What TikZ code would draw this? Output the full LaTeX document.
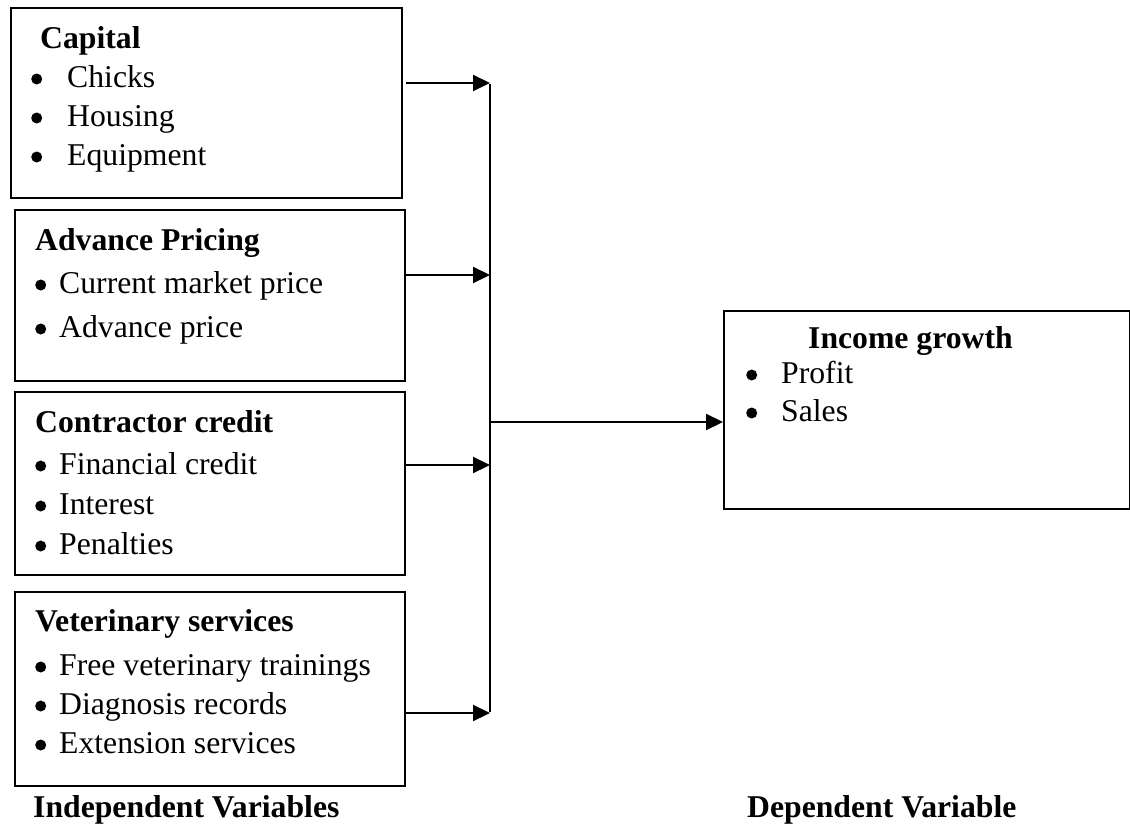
\documentclass[tikz,border=0pt]{standalone}
\usepackage{fontspec}
\setmainfont{Liberation Serif}
\usetikzlibrary{arrows.meta}
\begin{document}
\begin{tikzpicture}[x=1pt,y=-1pt,
  font=\fontsize{31.7pt}{38pt}\selectfont,
  box/.style={draw,line width=2.2pt,anchor=north west,inner sep=0pt},
  txt/.style={anchor=base west,inner sep=0pt},
  head/.style={txt,font=\fontsize{31.7pt}{38pt}\selectfont\bfseries},
  arr/.style={line width=2.2pt,-{Triangle[length=17pt,width=16pt]}},
  bus/.style={line width=2.2pt}]
\useasboundingbox (0,0) rectangle (1130,827);
\newcommand{\mybul}[1]{\makebox[#1][l]{\raisebox{2.5pt}{\tikz\fill (0pt,0pt) circle[radius=5.5pt];}}}
% boxes
\node[box,minimum width=391pt,minimum height=190pt] (cap) at (10,7) {};
\node[box,minimum width=390pt,minimum height=171pt] (adv) at (14,209) {};
\node[box,minimum width=390pt,minimum height=183pt] (con) at (14,391) {};
\node[box,minimum width=390pt,minimum height=194pt] (vet) at (14,591) {};
\node[box,minimum width=406pt,minimum height=198pt] (inc) at (723,310) {};
% capital
\node[head] (capH) at (40,48) {Capital};
\node[txt] (cap1) at (31,87) {\mybul{36pt}Chicks};
\node[txt] (cap2) at (31,126) {\mybul{36pt}Housing};
\node[txt] (cap3) at (31,165) {\mybul{36pt}Equipment};
% advance pricing
\node[head] (advH) at (35,250) {Advance Pricing};
\node[txt] (adv1) at (35,293) {\mybul{24pt}Current market price};
\node[txt] (adv2) at (35,337) {\mybul{24pt}Advance price};
% contractor credit
\node[head] (conH) at (35,432) {Contractor credit};
\node[txt] (con1) at (35,474) {\mybul{24pt}Financial credit};
\node[txt] (con2) at (35,514) {\mybul{24pt}Interest};
\node[txt] (con3) at (35,554) {\mybul{24pt}Penalties};
% veterinary
\node[head] (vetH) at (35,631) {Veterinary services};
\node[txt] (vet1) at (35,675) {\mybul{24pt}Free veterinary trainings};
\node[txt] (vet2) at (35,714) {\mybul{24pt}Diagnosis records};
\node[txt] (vet3) at (35,753) {\mybul{24pt}Extension services};
% income
\node[head] (incH) at (808,348) {Income growth};
\node[txt] (inc1) at (746,383) {\mybul{35pt}Profit};
\node[txt] (inc2) at (746,421) {\mybul{35pt}Sales};
% labels
\node[head] (indL) at (33,817) {Independent Variables};
\node[head] (depL) at (747,817) {Dependent Variable};
% connectors
\coordinate (b1) at (490,83);
\coordinate (b2) at (490,275);
\coordinate (b3) at (490,465);
\coordinate (b4) at (490,713);
\coordinate (bj) at (490,422);
\draw[bus] ([yshift=-1.1pt]b1) -- ([yshift=1.1pt]b4);
\draw[arr] (cap.east |- b1) ++(3,0) -- (b1);
\draw[arr] (adv.east |- b2) -- (b2);
\draw[arr] (con.east |- b3) -- (b3);
\draw[arr] (vet.east |- b4) -- (b4);
\draw[arr] (bj) -- (bj -| inc.west);
\end{tikzpicture}
\end{document}
